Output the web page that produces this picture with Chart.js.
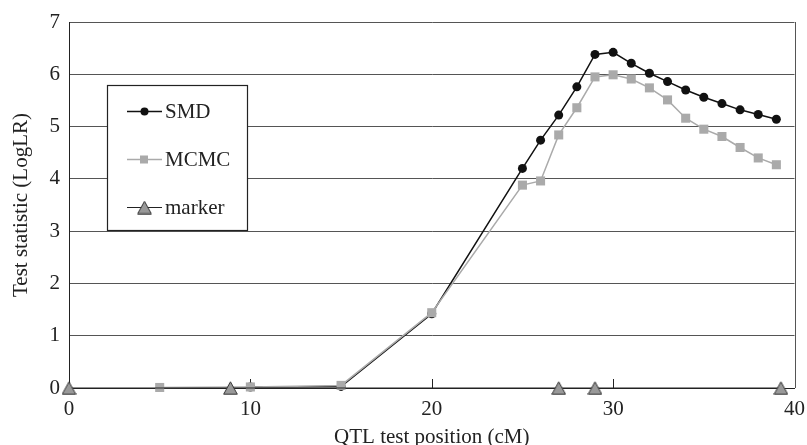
<!DOCTYPE html>
<html>
<head>
<meta charset="utf-8">
<script src="https://cdn.jsdelivr.net/npm/chart.js@4"></script>
<style>
  html, body { margin: 0; padding: 0; background: #fff; }
  #wrap { width: 807px; height: 445px; }
</style>
</head>
<body>
<div id="wrap"><canvas id="chart" width="807" height="445"></canvas></div>
<script>
// data
const smdPos = [10, 15, 20, 25, 26, 27, 28, 29, 30, 31, 32, 33, 34, 35, 36, 37, 38, 39];
const smdVal = [0.02, 0.03, 1.42, 4.2, 4.74, 5.22, 5.76, 6.38, 6.42, 6.21, 6.02, 5.86, 5.7, 5.56, 5.44, 5.32, 5.23, 5.14];
const mcmcPos = [5, 10, 15, 20, 25, 26, 27, 28, 29, 30, 31, 32, 33, 34, 35, 36, 37, 38, 39];
const mcmcVal = [0.01, 0.02, 0.05, 1.44, 3.88, 3.96, 4.84, 5.36, 5.95, 5.99, 5.91, 5.74, 5.51, 5.16, 4.95, 4.81, 4.6, 4.4, 4.27];
const markerPos = [0, 8.9, 27, 29, 39.25];
const markerVal = [0, 0, 0, 0, 0];
const seriesNames = ['SMD', 'MCMC', 'marker'];
const xTitle = 'QTL test position (cM)';
const yTitle = 'Test statistic (LogLR)';

const FONT = '"Liberation Serif", "DejaVu Serif", serif';
const TEXT = '#222';

// triangle marker, centred on its box like the original
const tri = document.createElement('canvas');
tri.width = 15; tri.height = 14;
(function () {
    const c = tri.getContext('2d');
    c.beginPath();
    c.moveTo(7.5, 0.8);
    c.lineTo(14.3, 13.2);
    c.lineTo(0.7, 13.2);
    c.closePath();
    c.fillStyle = '#999';
    c.fill();
    c.lineWidth = 1;
    c.strokeStyle = '#333';
    c.stroke();
})();

const toPts = (xs, ys) => xs.map((x, i) => ({ x: x, y: ys[i] }));

// right border + inward x tick marks
const framePlugin = {
    id: 'frame',
    beforeDatasetsDraw(chart) {
        const { ctx, chartArea: a, scales } = chart;
        ctx.save();
        ctx.strokeStyle = '#555';
        ctx.lineWidth = 1;
        ctx.beginPath();
        ctx.moveTo(Math.round(a.right) + 0.5, a.top);
        ctx.lineTo(Math.round(a.right) + 0.5, a.bottom);
        ctx.stroke();
        ctx.strokeStyle = '#222';
        scales.x.ticks.forEach(t => {
            if (t.value <= 0 || t.value >= 40) return;
            const px = Math.round(scales.x.getPixelForValue(t.value)) + 0.5;
            ctx.beginPath();
            ctx.moveTo(px, a.bottom);
            ctx.lineTo(px, a.bottom - 9);
            ctx.stroke();
        });
        ctx.restore();
    }
};

// legend box inside the plot
const legendBox = {
    id: 'legendBox',
    afterDraw(chart) {
        const ctx = chart.ctx;
        const box = { x: 107.5, y: 85.5, w: 140, h: 145 };
        const rows = [111.5, 159.5, 207.5];
        ctx.save();
        ctx.fillStyle = '#fff';
        ctx.fillRect(box.x, box.y, box.w, box.h);
        ctx.strokeStyle = '#222';
        ctx.lineWidth = 1.2;
        ctx.strokeRect(box.x, box.y, box.w, box.h);
        ctx.font = '21px ' + FONT;
        ctx.textBaseline = 'middle';
        rows.forEach((y, i) => {
            const ds = chart.data.datasets.find(d => d.label === seriesNames[i]);
            ctx.strokeStyle = ds.borderColor;
            ctx.lineWidth = ds.borderWidth;
            ctx.beginPath();
            ctx.moveTo(127, y);
            ctx.lineTo(162, y);
            ctx.stroke();
            ctx.fillStyle = ds.pointBackgroundColor;
            if (i === 0) {
                ctx.beginPath();
                ctx.arc(144.5, y, 4, 0, Math.PI * 2);
                ctx.fill();
            } else if (i === 1) {
                ctx.fillRect(140, y - 4, 8, 8);
            } else {
                ctx.drawImage(tri, 144.5 - 7.5, y - 7);
            }
            ctx.fillStyle = TEXT;
            ctx.fillText(seriesNames[i], 165, y + 1);
        });
        ctx.restore();
    }
};

new Chart(document.getElementById('chart'), {
    type: 'scatter',
    data: {
        datasets: [
            {
                label: seriesNames[0],
                data: toPts(smdPos, smdVal),
                showLine: true,
                borderColor: '#111',
                borderWidth: 1.5,
                pointStyle: 'circle',
                pointRadius: 4.5,
                pointBorderWidth: 0,
                pointBackgroundColor: '#111',
                order: 3,
                clip: false
            },
            {
                label: seriesNames[1],
                data: toPts(mcmcPos, mcmcVal),
                showLine: true,
                borderColor: '#aaa',
                borderWidth: 1.5,
                pointStyle: 'rect',
                pointRadius: 6.4,
                pointBorderWidth: 0,
                pointBackgroundColor: '#aaa',
                order: 2,
                clip: false
            },
            {
                label: seriesNames[2],
                data: toPts(markerPos, markerVal),
                showLine: true,
                borderColor: '#222',
                borderWidth: 1,
                pointStyle: tri,
                pointBackgroundColor: '#999',
                order: 1,
                clip: false
            }
        ]
    },
    options: {
        responsive: false,
        animation: false,
        events: [],
        layout: { padding: { top: 22, right: 11, left: 0, bottom: 0 } },
        plugins: { legend: { display: false }, tooltip: { enabled: false } },
        scales: {
            x: {
                type: 'linear',
                min: 0,
                max: 40,
                afterFit(s) { s.height = 57; },
                grid: { display: false, drawTicks: false },
                border: { display: true, color: '#222', width: 1 },
                // tall line box pushes the labels down without widening side padding
                ticks: { stepSize: 10, padding: 2, maxRotation: 0, minRotation: 0, color: TEXT, font: { family: FONT, size: 21, lineHeight: '39px' } },
                title: { display: true, text: xTitle, color: TEXT, padding: { top: 0, bottom: -3 }, font: { family: FONT, size: 21, lineHeight: 1 } }
            },
            y: {
                min: 0,
                max: 7,
                afterFit(s) { s.width = 69; },
                grid: { color: '#555', lineWidth: 1, drawTicks: false },
                border: { display: true, color: '#222', width: 1 },
                ticks: { stepSize: 1, padding: 9, color: TEXT, font: { family: FONT, size: 21 } },
                title: { display: true, text: yTitle, color: TEXT, padding: { top: 11, bottom: 0 }, font: { family: FONT, size: 21, lineHeight: 1 } }
            }
        }
    },
    plugins: [framePlugin, legendBox]
});
</script>
</body>
</html>
